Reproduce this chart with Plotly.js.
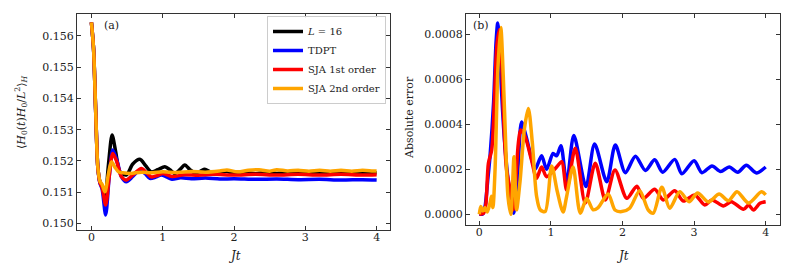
<!DOCTYPE html>
<html>
<head>
<meta charset="utf-8">
<script src="https://cdn.plot.ly/plotly-3.0.1.min.js"></script>
<style>html,body{margin:0;padding:0;background:#fff;}#chart{width:793px;height:274px;}</style>
</head>
<body>
<div id="chart"></div>
<script>
// ---- Panel (a): <H0(t)H0/L^2>_H ----
const seriesNames = ["<i>L</i> = 16", "TDPT", "SJA 1st order", "SJA 2nd order"];
const xTickVals = [0, 1, 2, 3, 4];
const yTickValsA = [0.150, 0.151, 0.152, 0.153, 0.154, 0.155, 0.156];
const yTickValsB = [0.0000, 0.0002, 0.0004, 0.0006, 0.0008];

const exactX = [0, 0.03, 0.06, 0.09, 0.12, 0.15, 0.19, 0.24, 0.29, 0.34, 0.40, 0.49, 0.58, 0.68, 0.76, 0.84, 0.93, 1.03, 1.10, 1.17, 1.24, 1.31, 1.38, 1.45, 1.52, 1.59, 1.66, 1.73, 1.81, 1.89, 2.0, 2.15, 2.3, 2.45, 2.6, 2.75, 2.9, 3.05, 3.2, 3.35, 3.5, 3.65, 3.8, 3.95, 4.0];
const exactY = [0.15643, 0.15560, 0.15360, 0.15180, 0.15133, 0.15120, 0.15080, 0.15190, 0.15283, 0.15230, 0.15165, 0.15155, 0.15190, 0.15205, 0.15185, 0.15165, 0.15172, 0.15181, 0.15172, 0.15160, 0.15172, 0.15187, 0.15172, 0.15162, 0.15166, 0.15173, 0.15166, 0.15160, 0.15163, 0.15167, 0.15160, 0.15164, 0.15159, 0.15164, 0.15160, 0.15163, 0.15160, 0.15163, 0.15160, 0.15162, 0.15160, 0.15162, 0.15160, 0.15162, 0.15161];

const tdptX = [0, 0.03, 0.06, 0.09, 0.12, 0.15, 0.20, 0.25, 0.30, 0.36, 0.42, 0.49, 0.58, 0.68, 0.75, 0.82, 0.90, 0.98, 1.06, 1.13, 1.25, 1.4, 1.6, 1.8, 2.0, 2.3, 2.6, 2.9, 3.2, 3.5, 3.8, 4.0];
const tdptY = [0.15643, 0.15560, 0.15360, 0.15180, 0.15128, 0.15110, 0.15027, 0.15150, 0.15235, 0.15200, 0.15150, 0.15133, 0.15150, 0.15171, 0.15160, 0.15144, 0.15148, 0.15155, 0.15148, 0.15141, 0.15146, 0.15143, 0.15145, 0.15142, 0.15143, 0.15141, 0.15142, 0.15140, 0.15141, 0.15139, 0.15140, 0.15139];

const sja1X = [0, 0.03, 0.06, 0.09, 0.12, 0.15, 0.20, 0.25, 0.30, 0.36, 0.42, 0.49, 0.58, 0.70, 0.77, 0.84, 0.92, 1.0, 1.13, 1.3, 1.5, 1.7, 2.0, 2.3, 2.6, 2.9, 3.2, 3.5, 3.8, 4.0];
const sja1Y = [0.15643, 0.15560, 0.15360, 0.15180, 0.15130, 0.15115, 0.15059, 0.15150, 0.15224, 0.15195, 0.15150, 0.15139, 0.15155, 0.15176, 0.15163, 0.15149, 0.15153, 0.15160, 0.15150, 0.15156, 0.15154, 0.15157, 0.15155, 0.15157, 0.15155, 0.15157, 0.15155, 0.15157, 0.15155, 0.15156];

const sja2X = [0, 0.03, 0.06, 0.09, 0.12, 0.15, 0.19, 0.24, 0.28, 0.33, 0.38, 0.44, 0.55, 0.7, 0.85, 1.0, 1.2, 1.4, 1.6, 1.8, 1.9, 2.05, 2.2, 2.35, 2.5, 2.6, 2.75, 2.9, 3.05, 3.2, 3.35, 3.5, 3.65, 3.8, 3.95, 4.0];
const sja2Y = [0.15643, 0.15560, 0.15360, 0.15180, 0.15135, 0.15125, 0.15101, 0.15160, 0.15197, 0.15180, 0.15165, 0.15162, 0.15160, 0.15164, 0.15162, 0.15165, 0.15163, 0.15166, 0.15164, 0.15168, 0.15171, 0.15165, 0.15170, 0.15172, 0.15167, 0.15172, 0.15168, 0.15170, 0.15167, 0.15170, 0.15167, 0.15170, 0.15167, 0.15170, 0.15168, 0.15168];

// ---- Panel (b): absolute error ----
const errTdptX = [0, 0.05, 0.08, 0.12, 0.15, 0.20, 0.233, 0.257, 0.28, 0.31, 0.34, 0.38, 0.43, 0.48, 0.53, 0.59, 0.65, 0.72, 0.78, 0.87, 0.94, 1.03, 1.08, 1.14, 1.22, 1.32, 1.49, 1.61, 1.78, 1.90, 2.04, 2.18, 2.32, 2.45, 2.56, 2.73, 2.83, 3.0, 3.11, 3.25, 3.37, 3.49, 3.61, 3.73, 3.87, 4.0];
const errTdptY = [0, 0.000002, 0.000034, 0.00016, 0.00026, 0.00050, 0.00076, 0.00085, 0.00076, 0.00055, 0.00038, 0.00022, 0.00008, 0.000005, 0.00015, 0.00041, 0.00035, 0.00026, 0.00020, 0.00026, 0.00020, 0.00027, 0.00026, 0.000305, 0.000138, 0.00035, 0.000123, 0.000312, 0.000145, 0.000308, 0.000185, 0.000258, 0.000195, 0.000242, 0.000187, 0.000244, 0.00018, 0.000238, 0.000185, 0.000215, 0.00019, 0.00021, 0.000187, 0.000218, 0.000184, 0.00021];

const errSja1X = [0, 0.06, 0.09, 0.127, 0.173, 0.21, 0.245, 0.28, 0.31, 0.335, 0.38, 0.43, 0.475, 0.515, 0.545, 0.578, 0.64, 0.73, 0.80, 0.87, 0.94, 1.08, 1.15, 1.22, 1.34, 1.48, 1.62, 1.76, 1.895, 2.06, 2.20, 2.29, 2.45, 2.57, 2.73, 2.85, 3.01, 3.15, 3.25, 3.41, 3.52, 3.69, 3.76, 3.83, 3.92, 4.0];
const errSja1Y = [0, 0.000005, 0.00004, 0.000227, 0.000286, 0.00050, 0.00075, 0.00082, 0.00070, 0.00046, 0.00020, 0.00011, 0.00002, 0.00018, 0.000315, 0.000375, 0.000345, 0.00024, 0.00016, 0.00021, 0.000167, 0.00021, 0.000234, 0.000108, 0.000293, 0.00005, 0.000227, 0.000064, 0.000197, 0.000071, 0.000125, 0.000071, 0.000111, 0.000064, 0.000105, 0.000059, 0.000086, 0.000041, 0.000064, 0.000037, 0.000056, 0.000022, 0.000041, 0.000019, 0.000049, 0.000056];

const errSja2X = [0, 0.02, 0.05, 0.08, 0.11, 0.15, 0.17, 0.19, 0.22, 0.26, 0.30, 0.335, 0.37, 0.40, 0.44, 0.485, 0.52, 0.57, 0.63, 0.685, 0.74, 0.80, 0.85, 0.92, 1.01, 1.09, 1.17, 1.22, 1.31, 1.41, 1.50, 1.59, 1.66, 1.80, 1.895, 1.99, 2.10, 2.24, 2.36, 2.43, 2.55, 2.66, 2.80, 2.93, 3.05, 3.2, 3.35, 3.48, 3.6, 3.76, 3.94, 4.0];
const errSja2Y = [0, 0.000035, 0.000015, 0.00003, 0.00001, 0.00005, 0.00008, 0.00003, 0.00020, 0.00065, 0.00083, 0.00061, 0.00030, 0.00008, 0.0, 0.000256, 0.00002, 0.00015, 0.00038, 0.00047, 0.00032, 0.00008, 0.00002, 0.000012, 0.000215, 0.0001, 0.00001, 0.00008, 0.00021, 0.000005, 0.00007, 0.00002, 0.00003, 0.00009, 0.000019, 0.000012, 0.000027, 0.000105, 0.000019, 0.000005, 0.00012, 0.000027, 0.0001, 0.000056, 0.000095, 0.000055, 0.00009, 0.00006, 0.0001, 0.00005, 0.0001, 0.000086];

const colors = ["#000000", "#0000ff", "#ff0000", "#ffa500"];
const LW = 3.5;
const FONT = "DejaVu Serif, Liberation Serif, serif";

function tr(x, y, i, xa, ya, show) {
  return {x: x, y: y, type: "scatter", mode: "lines", name: seriesNames[i],
    line: {color: colors[i], width: LW, shape: "spline", smoothing: 0.8},
    xaxis: xa, yaxis: ya, showlegend: show};
}

const data = [
  tr(exactX, exactY, 0, "x", "y", true),
  tr(tdptX, tdptY, 1, "x", "y", true),
  tr(sja1X, sja1Y, 2, "x", "y", true),
  tr(sja2X, sja2Y, 3, "x", "y", true),
  tr(errTdptX, errTdptY, 1, "x2", "y2", false),
  tr(errSja1X, errSja1Y, 2, "x2", "y2", false),
  tr(errSja2X, errSja2Y, 3, "x2", "y2", false)
];

const W = 793, H = 274;
const axCommon = {
  showgrid: false, zeroline: false, showline: true, linecolor: "#333", linewidth: 1,
  mirror: "ticks", ticks: "inside", ticklen: 4, tickwidth: 1, tickcolor: "#333",
  tickfont: {family: FONT, size: 11, color: "#222"}
};

function ann(text, xpx, ypx, size, angle) {
  return {text: text, xref: "paper", yref: "paper", x: xpx / W, y: 1 - ypx / H,
    xanchor: "center", yanchor: "middle", showarrow: false, textangle: angle || 0,
    font: {family: FONT, size: size, color: "#222"}};
}

const layout = {
  width: W, height: H,
  margin: {l: 0, r: 0, t: 0, b: 0},
  paper_bgcolor: "#fff", plot_bgcolor: "#fff",
  font: {family: FONT, size: 11, color: "#222"},
  xaxis: Object.assign({}, axCommon, {domain: [77/W, 390/W], range: [-0.202, 4.187], tickvals: xTickVals, ticktext: xTickVals.map(String), anchor: "y", ticklabelstandoff: -3}),
  yaxis: Object.assign({}, axCommon, {domain: [1-230/H, 1-14/H], range: [0.14979, 0.15670], tickvals: yTickValsA, ticktext: yTickValsA.map(v => v.toFixed(3)), anchor: "x"}),
  xaxis2: Object.assign({}, axCommon, {domain: [466/W, 780/W], range: [-0.186, 4.2], tickvals: xTickVals, ticktext: xTickVals.map(String), anchor: "y2", ticklabelstandoff: -3}),
  yaxis2: Object.assign({}, axCommon, {domain: [1-225/H, 1-14/H], range: [-0.0000476, 0.00089], tickvals: yTickValsB, ticktext: yTickValsB.map(v => v.toFixed(4)), anchor: "x2"}),
  legend: {x: 386/W, xanchor: "right", y: 1-16/H, yanchor: "top", bgcolor: "rgba(255,255,255,0.9)",
    bordercolor: "#cccccc", borderwidth: 1, font: {family: FONT, size: 10, color: "#222"},
    tracegroupgap: 0, itemwidth: 30},
  annotations: [
    ann("(a)", 111, 25, 11),
    ann("(b)", 481, 25, 11),
    ann("<i>Jt</i>", 234, 256, 12),
    ann("<i>Jt</i>", 622, 256, 12),
    ann("⟨<i>H</i><sub>0</sub>(<i>t</i>)<i>H</i><sub>0</sub>/<i>L</i><sup>2</sup>⟩<sub><i>H</i></sub>", 21, 112, 11, -90),
    ann("Absolute error", 409, 118, 11, -90)
  ]
};

Plotly.newPlot("chart", data, layout, {displayModeBar: false, staticPlot: true});
</script>
</body>
</html>
